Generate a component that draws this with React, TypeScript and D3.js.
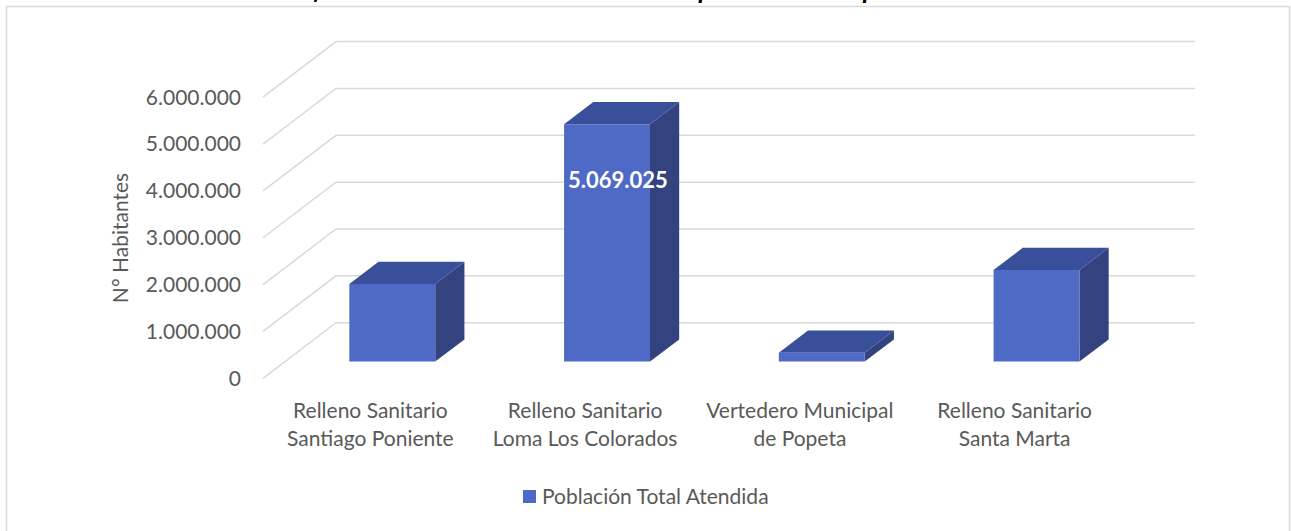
import React from "react";
import * as d3 from "d3";

const categories: string[][] = [
  ["Relleno Sanitario", "Santiago Poniente"],
  ["Relleno Sanitario", "Loma Los Colorados"],
  ["Vertedero Municipal", "de Popeta"],
  ["Relleno Sanitario", "Santa Marta"],
];
const values: number[] = [1657000, 5069025, 190000, 1955000];
const labeledIndex = 1;
const yTicks: number[] = [0, 1000000, 2000000, 3000000, 4000000, 5000000, 6000000];
const seriesName = "Población Total Atendida";
const yTitle = "N° Habitantes";
const title = "Gráfico N° 4: Población Total Atendida por Sitio de Disposición Final";

const W = 1291;
const H = 531;
const FONT = "Lato, 'Open Sans', sans-serif";

const fmt = (v: number) => d3.format(",")(v).replace(/,/g, ".");

export default function App() {
  const x0 = 263, x1 = 1122;
  const depthDx = 73, depthDy = -55.6;
  const y = d3.scaleLinear().domain([0, 6000000]).range([378.3, 97.2]);
  const x = d3.scaleBand<number>().domain(d3.range(categories.length)).range([x0, x1]).paddingInner(0.6).paddingOuter(0.3);
  const proj = (px: number, v: number, d: number): [number, number] => [px + d * depthDx, y(v) + d * depthDy];

  const dFront = 0.3, dBack = 0.7;
  const pts = (arr: [number, number][]) => arr.map((p) => p.join(",")).join(" ");

  return (
    <svg width={W} height={H} style={{ position: "absolute", left: 0, top: 0, background: "#fff" }} fontFamily={FONT}>
      <rect x={6.5} y={6.5} width={1283} height={540} fill="none" stroke="#D9D9D9" strokeWidth={1.5} />
      <text x={643} y={-1} textAnchor="middle" fontSize={26} fontWeight="bold" fontStyle="italic" fill="#000">{title}</text>

      {yTicks.map((t) => {
        const a = proj(x0, t, 0);
        const b = proj(x0, t, 1);
        const c = proj(x1, t, 1);
        return <polyline key={t} points={pts([a, b, c])} fill="none" stroke="#D9D9D9" strokeWidth={1.5} />;
      })}

      {yTicks.map((t) => (
        <text key={"l" + t} x={241} y={y(t)} dy="0.35em" textAnchor="end" fontSize={21} fill="#595959">{fmt(t)}</text>
      ))}

      <text transform={`translate(128,238) rotate(-90)`} textAnchor="middle" fontSize={21} fill="#595959">{yTitle}</text>

      {values.map((v, i) => {
        const xl = x(i)!;
        const xr = xl + x.bandwidth();
        const fl0 = proj(xl, 0, dFront), fr0 = proj(xr, 0, dFront), frT = proj(xr, v, dFront), flT = proj(xl, v, dFront);
        const blT = proj(xl, v, dBack), brT = proj(xr, v, dBack), br0 = proj(xr, 0, dBack);
        return (
          <g key={i}>
            <polygon points={pts([fr0, br0, brT, frT])} fill="#33437F" />
            <polygon points={pts([flT, frT, brT, blT])} fill="#3A4F9A" />
            <polygon points={pts([fl0, fr0, frT, flT])} fill="#4E69C6" />
          </g>
        );
      })}

      {(() => {
        const i = labeledIndex;
        const cx = x(i)! + x.bandwidth() / 2 + 0.45 * depthDx;
        return (
          <text x={cx} y={180} dy="0.35em" textAnchor="middle" fontSize={22} fontWeight="bold" fill="#fff">{fmt(values[i])}</text>
        );
      })()}

      {categories.map((lines, i) => {
        const cx = x(i)! + x.bandwidth() / 2;
        return (
          <text key={"c" + i} textAnchor="middle" fontSize={21} fill="#595959">
            {lines.map((ln, j) => (
              <tspan key={j} x={cx} y={411 + j * 28} dy="0.35em">{ln}</tspan>
            ))}
          </text>
        );
      })}

      <rect x={523} y={490} width={13} height={13} fill="#4E69C6" />
      <text x={542} y={496.5} dy="0.35em" fontSize={21} fill="#595959">{seriesName}</text>
    </svg>
  );
}
